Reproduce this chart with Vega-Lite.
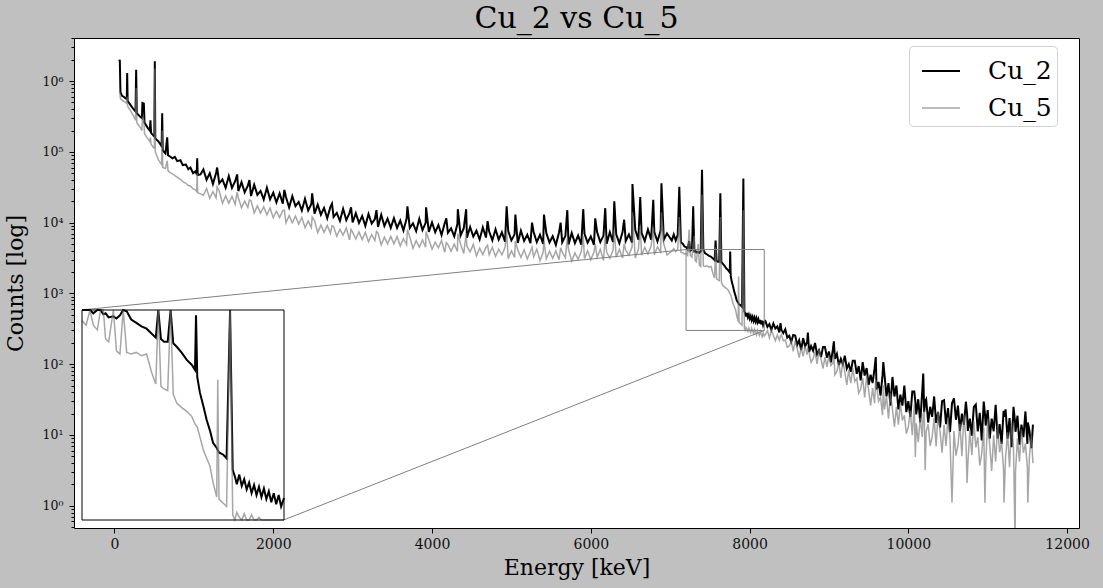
{
  "$schema": "https://vega.github.io/schema/vega-lite/v6.json",
  "width": 1005,
  "height": 490,
  "autosize": "none",
  "padding": {"left": 74, "top": 38, "right": 24, "bottom": 60},
  "background": "#c0c0c0",
  "title": {
    "text": "Cu_2 vs Cu_5",
    "font": "DejaVu Serif",
    "fontSize": 30,
    "fontWeight": "normal",
    "color": "#000000",
    "anchor": "middle",
    "frame": "group",
    "offset": 4,
    "dy": 6
  },
  "config": {
    "view": {"fill": "white", "stroke": "#000000", "strokeWidth": 1},
    "axis": {
      "grid": false,
      "domain": false,
      "tickColor": "#000000",
      "tickWidth": 1,
      "labelFont": "DejaVu Serif",
      "labelColor": "#111111",
      "titleFont": "DejaVu Serif",
      "titleFontWeight": "normal",
      "titleColor": "#000000",
      "titleFontSize": 22
    }
  },
  "data": {
    "values": [
      {"E": 60, "Cu_2": 1900000, "Cu_5": 700000},
      {"E": 67, "Cu_2": 2000000, "Cu_5": 680000},
      {"E": 75, "Cu_2": 700000, "Cu_5": 560000},
      {"E": 95, "Cu_2": 620000, "Cu_5": 540000},
      {"E": 115, "Cu_2": 600000, "Cu_5": 520000},
      {"E": 140, "Cu_2": 570000, "Cu_5": 500000},
      {"E": 155, "Cu_2": 560000, "Cu_5": 480000},
      {"E": 160, "Cu_2": 1300000, "Cu_5": 600000},
      {"E": 166, "Cu_2": 520000, "Cu_5": 440000},
      {"E": 190, "Cu_2": 480000, "Cu_5": 400000},
      {"E": 214, "Cu_2": 440000, "Cu_5": 360000},
      {"E": 240, "Cu_2": 400000, "Cu_5": 320000},
      {"E": 265, "Cu_2": 370000, "Cu_5": 280000},
      {"E": 273, "Cu_2": 1450000, "Cu_5": 800000},
      {"E": 281, "Cu_2": 350000, "Cu_5": 260000},
      {"E": 305, "Cu_2": 330000, "Cu_5": 235000},
      {"E": 327, "Cu_2": 310000, "Cu_5": 220000},
      {"E": 345, "Cu_2": 300000, "Cu_5": 200000},
      {"E": 352, "Cu_2": 490000, "Cu_5": 300000},
      {"E": 370, "Cu_2": 480000, "Cu_5": 280000},
      {"E": 378, "Cu_2": 260000, "Cu_5": 180000},
      {"E": 416, "Cu_2": 220000, "Cu_5": 155000},
      {"E": 445, "Cu_2": 200000, "Cu_5": 140000},
      {"E": 453, "Cu_2": 280000, "Cu_5": 160000},
      {"E": 461, "Cu_2": 185000, "Cu_5": 128000},
      {"E": 490, "Cu_2": 170000, "Cu_5": 115000},
      {"E": 502, "Cu_2": 165000, "Cu_5": 112000},
      {"E": 508, "Cu_2": 1900000, "Cu_5": 1500000},
      {"E": 514, "Cu_2": 155000, "Cu_5": 100000},
      {"E": 554, "Cu_2": 140000, "Cu_5": 77000},
      {"E": 594, "Cu_2": 120000, "Cu_5": 66000},
      {"E": 601, "Cu_2": 350000, "Cu_5": 200000},
      {"E": 608, "Cu_2": 105000, "Cu_5": 60000},
      {"E": 642, "Cu_2": 95000, "Cu_5": 58000},
      {"E": 664, "Cu_2": 160000, "Cu_5": 75000},
      {"E": 675, "Cu_2": 90000, "Cu_5": 54000},
      {"E": 700, "Cu_2": 86000, "Cu_5": 51000},
      {"E": 730, "Cu_2": 81000, "Cu_5": 49000},
      {"E": 760, "Cu_2": 85000, "Cu_5": 46000},
      {"E": 790, "Cu_2": 74000, "Cu_5": 44000},
      {"E": 831, "Cu_2": 76000, "Cu_5": 41000},
      {"E": 860, "Cu_2": 65000, "Cu_5": 38000},
      {"E": 900, "Cu_2": 66000, "Cu_5": 36000},
      {"E": 930, "Cu_2": 57000, "Cu_5": 33500},
      {"E": 957, "Cu_2": 60000, "Cu_5": 33000},
      {"E": 990, "Cu_2": 50000, "Cu_5": 30000},
      {"E": 1020, "Cu_2": 53000, "Cu_5": 29000},
      {"E": 1036, "Cu_2": 48000, "Cu_5": 27500},
      {"E": 1042, "Cu_2": 81000, "Cu_5": 50000},
      {"E": 1048, "Cu_2": 47000, "Cu_5": 26500},
      {"E": 1083, "Cu_2": 48000, "Cu_5": 25500},
      {"E": 1120, "Cu_2": 56500, "Cu_5": 24360},
      {"E": 1160, "Cu_2": 40350, "Cu_5": 30360},
      {"E": 1200, "Cu_2": 49770, "Cu_5": 22120},
      {"E": 1240, "Cu_2": 35130, "Cu_5": 27410},
      {"E": 1280, "Cu_2": 50180, "Cu_5": 22390},
      {"E": 1293, "Cu_2": 60000, "Cu_5": 32000},
      {"E": 1320, "Cu_2": 35830, "Cu_5": 27970},
      {"E": 1360, "Cu_2": 40730, "Cu_5": 18820},
      {"E": 1400, "Cu_2": 31010, "Cu_5": 23880},
      {"E": 1440, "Cu_2": 45400, "Cu_5": 18890},
      {"E": 1480, "Cu_2": 31040, "Cu_5": 23520},
      {"E": 1520, "Cu_2": 38440, "Cu_5": 18110},
      {"E": 1545, "Cu_2": 48000, "Cu_5": 27000},
      {"E": 1560, "Cu_2": 27940, "Cu_5": 22450},
      {"E": 1600, "Cu_2": 37240, "Cu_5": 16260},
      {"E": 1640, "Cu_2": 26790, "Cu_5": 20120},
      {"E": 1680, "Cu_2": 33340, "Cu_5": 16390},
      {"E": 1700, "Cu_2": 40000, "Cu_5": 21000},
      {"E": 1720, "Cu_2": 23720, "Cu_5": 20430},
      {"E": 1760, "Cu_2": 34230, "Cu_5": 13690},
      {"E": 1800, "Cu_2": 24680, "Cu_5": 17270},
      {"E": 1840, "Cu_2": 28070, "Cu_5": 13570},
      {"E": 1880, "Cu_2": 21260, "Cu_5": 16770},
      {"E": 1920, "Cu_2": 31080, "Cu_5": 12900},
      {"E": 1960, "Cu_2": 21320, "Cu_5": 16080},
      {"E": 2000, "Cu_2": 26490, "Cu_5": 11710},
      {"E": 2040, "Cu_2": 19330, "Cu_5": 14510},
      {"E": 2080, "Cu_2": 25870, "Cu_5": 11850},
      {"E": 2120, "Cu_2": 18570, "Cu_5": 14800},
      {"E": 2140, "Cu_2": 29000, "Cu_5": 15000},
      {"E": 2160, "Cu_2": 23050, "Cu_5": 9940},
      {"E": 2200, "Cu_2": 16360, "Cu_5": 12570},
      {"E": 2240, "Cu_2": 23690, "Cu_5": 9950},
      {"E": 2280, "Cu_2": 17130, "Cu_5": 12380},
      {"E": 2320, "Cu_2": 19560, "Cu_5": 9530},
      {"E": 2360, "Cu_2": 14880, "Cu_5": 11810},
      {"E": 2400, "Cu_2": 21750, "Cu_5": 8540},
      {"E": 2440, "Cu_2": 14850, "Cu_5": 10530},
      {"E": 2480, "Cu_2": 18350, "Cu_5": 8540},
      {"E": 2490, "Cu_2": 26000, "Cu_5": 12000},
      {"E": 2520, "Cu_2": 13380, "Cu_5": 10660},
      {"E": 2560, "Cu_2": 17980, "Cu_5": 7220},
      {"E": 2600, "Cu_2": 12960, "Cu_5": 9200},
      {"E": 2640, "Cu_2": 16150, "Cu_5": 7300},
      {"E": 2680, "Cu_2": 11520, "Cu_5": 9140},
      {"E": 2720, "Cu_2": 16670, "Cu_5": 7070},
      {"E": 2740, "Cu_2": 18500, "Cu_5": 9000},
      {"E": 2760, "Cu_2": 12040, "Cu_5": 8810},
      {"E": 2800, "Cu_2": 13740, "Cu_5": 6410},
      {"E": 2840, "Cu_2": 10580, "Cu_5": 8040},
      {"E": 2880, "Cu_2": 15680, "Cu_5": 6650},
      {"E": 2920, "Cu_2": 10860, "Cu_5": 8400},
      {"E": 2960, "Cu_2": 13630, "Cu_5": 5720},
      {"E": 2980, "Cu_2": 16500, "Cu_5": 8000},
      {"E": 3000, "Cu_2": 10040, "Cu_5": 7330},
      {"E": 3040, "Cu_2": 13590, "Cu_5": 5870},
      {"E": 3080, "Cu_2": 9870, "Cu_5": 7380},
      {"E": 3120, "Cu_2": 12430, "Cu_5": 5770},
      {"E": 3160, "Cu_2": 9000, "Cu_5": 7280},
      {"E": 3200, "Cu_2": 13220, "Cu_5": 5370},
      {"E": 3240, "Cu_2": 9700, "Cu_5": 6760},
      {"E": 3280, "Cu_2": 11260, "Cu_5": 5600},
      {"E": 3300, "Cu_2": 15000, "Cu_5": 7500},
      {"E": 3320, "Cu_2": 8700, "Cu_5": 7090},
      {"E": 3360, "Cu_2": 12930, "Cu_5": 4850},
      {"E": 3400, "Cu_2": 8980, "Cu_5": 6230},
      {"E": 3440, "Cu_2": 11360, "Cu_5": 5020},
      {"E": 3480, "Cu_2": 8450, "Cu_5": 6370},
      {"E": 3520, "Cu_2": 11530, "Cu_5": 5010},
      {"E": 3560, "Cu_2": 8440, "Cu_5": 6340},
      {"E": 3600, "Cu_2": 10690, "Cu_5": 4700},
      {"E": 3640, "Cu_2": 7770, "Cu_5": 5920},
      {"E": 3680, "Cu_2": 11440, "Cu_5": 4910},
      {"E": 3690, "Cu_2": 17000, "Cu_5": 8000},
      {"E": 3720, "Cu_2": 8410, "Cu_5": 6270},
      {"E": 3760, "Cu_2": 9790, "Cu_5": 4310},
      {"E": 3800, "Cu_2": 7580, "Cu_5": 5560},
      {"E": 3840, "Cu_2": 11300, "Cu_5": 4500},
      {"E": 3880, "Cu_2": 7880, "Cu_5": 5710},
      {"E": 3920, "Cu_2": 9950, "Cu_5": 4490},
      {"E": 3925, "Cu_2": 16500, "Cu_5": 7500},
      {"E": 3960, "Cu_2": 7390, "Cu_5": 5710},
      {"E": 4000, "Cu_2": 10070, "Cu_5": 4230},
      {"E": 4040, "Cu_2": 7340, "Cu_5": 5310},
      {"E": 4080, "Cu_2": 9260, "Cu_5": 4410},
      {"E": 4120, "Cu_2": 6690, "Cu_5": 5590},
      {"E": 4160, "Cu_2": 9820, "Cu_5": 3810},
      {"E": 4180, "Cu_2": 11500, "Cu_5": 5200},
      {"E": 4200, "Cu_2": 7190, "Cu_5": 4920},
      {"E": 4240, "Cu_2": 8310, "Cu_5": 3940},
      {"E": 4280, "Cu_2": 6420, "Cu_5": 4960},
      {"E": 4320, "Cu_2": 9540, "Cu_5": 3900},
      {"E": 4325, "Cu_2": 15500, "Cu_5": 7000},
      {"E": 4360, "Cu_2": 6590, "Cu_5": 4950},
      {"E": 4400, "Cu_2": 8340, "Cu_5": 3670},
      {"E": 4430, "Cu_2": 15500, "Cu_5": 7000},
      {"E": 4440, "Cu_2": 6130, "Cu_5": 4640},
      {"E": 4480, "Cu_2": 8660, "Cu_5": 3860},
      {"E": 4520, "Cu_2": 6360, "Cu_5": 4930},
      {"E": 4560, "Cu_2": 7690, "Cu_5": 3380},
      {"E": 4600, "Cu_2": 5780, "Cu_5": 4360},
      {"E": 4640, "Cu_2": 8580, "Cu_5": 3530},
      {"E": 4680, "Cu_2": 6150, "Cu_5": 4490},
      {"E": 4700, "Cu_2": 10500, "Cu_5": 4800},
      {"E": 4720, "Cu_2": 7470, "Cu_5": 3530},
      {"E": 4760, "Cu_2": 5650, "Cu_5": 4480},
      {"E": 4800, "Cu_2": 8080, "Cu_5": 3330},
      {"E": 4840, "Cu_2": 5770, "Cu_5": 4210},
      {"E": 4880, "Cu_2": 7290, "Cu_5": 3510},
      {"E": 4920, "Cu_2": 5370, "Cu_5": 4490},
      {"E": 4940, "Cu_2": 17000, "Cu_5": 7500},
      {"E": 4960, "Cu_2": 7630, "Cu_5": 3090},
      {"E": 5000, "Cu_2": 5620, "Cu_5": 4000},
      {"E": 5040, "Cu_2": 6830, "Cu_5": 3230},
      {"E": 5050, "Cu_2": 13000, "Cu_5": 5500},
      {"E": 5080, "Cu_2": 5160, "Cu_5": 4120},
      {"E": 5120, "Cu_2": 7680, "Cu_5": 3240},
      {"E": 5160, "Cu_2": 5520, "Cu_5": 4130},
      {"E": 5200, "Cu_2": 6750, "Cu_5": 3070},
      {"E": 5240, "Cu_2": 5130, "Cu_5": 3900},
      {"E": 5260, "Cu_2": 10000, "Cu_5": 4500},
      {"E": 5280, "Cu_2": 7380, "Cu_5": 3290},
      {"E": 5320, "Cu_2": 5290, "Cu_5": 4210},
      {"E": 5360, "Cu_2": 6740, "Cu_5": 2910},
      {"E": 5400, "Cu_2": 4990, "Cu_5": 3810},
      {"E": 5410, "Cu_2": 13000, "Cu_5": 5500},
      {"E": 5440, "Cu_2": 7100, "Cu_5": 3090},
      {"E": 5480, "Cu_2": 5240, "Cu_5": 3960},
      {"E": 5520, "Cu_2": 6410, "Cu_5": 3140},
      {"E": 5560, "Cu_2": 4860, "Cu_5": 4010},
      {"E": 5600, "Cu_2": 7260, "Cu_5": 3000},
      {"E": 5620, "Cu_2": 10000, "Cu_5": 4400},
      {"E": 5640, "Cu_2": 5270, "Cu_5": 3830},
      {"E": 5680, "Cu_2": 6460, "Cu_5": 3210},
      {"E": 5704, "Cu_2": 15000, "Cu_5": 6000},
      {"E": 5720, "Cu_2": 4930, "Cu_5": 4130},
      {"E": 5760, "Cu_2": 7130, "Cu_5": 2860},
      {"E": 5800, "Cu_2": 5140, "Cu_5": 3730},
      {"E": 5840, "Cu_2": 6580, "Cu_5": 3040},
      {"E": 5880, "Cu_2": 4890, "Cu_5": 3910},
      {"E": 5905, "Cu_2": 15500, "Cu_5": 6500},
      {"E": 5920, "Cu_2": 7000, "Cu_5": 3120},
      {"E": 5960, "Cu_2": 5200, "Cu_5": 4000},
      {"E": 6000, "Cu_2": 6370, "Cu_5": 3000},
      {"E": 6040, "Cu_2": 4860, "Cu_5": 3840},
      {"E": 6056, "Cu_2": 11500, "Cu_5": 5000},
      {"E": 6080, "Cu_2": 7290, "Cu_5": 3240},
      {"E": 6120, "Cu_2": 5300, "Cu_5": 4190},
      {"E": 6160, "Cu_2": 6560, "Cu_5": 2920},
      {"E": 6182, "Cu_2": 16000, "Cu_5": 6500},
      {"E": 6200, "Cu_2": 5050, "Cu_5": 3840},
      {"E": 6240, "Cu_2": 7340, "Cu_5": 3150},
      {"E": 6280, "Cu_2": 5320, "Cu_5": 4070},
      {"E": 6296, "Cu_2": 20000, "Cu_5": 8000},
      {"E": 6320, "Cu_2": 6860, "Cu_5": 3250},
      {"E": 6360, "Cu_2": 5130, "Cu_5": 4190},
      {"E": 6400, "Cu_2": 7370, "Cu_5": 3160},
      {"E": 6420, "Cu_2": 11000, "Cu_5": 5000},
      {"E": 6440, "Cu_2": 5520, "Cu_5": 4080},
      {"E": 6480, "Cu_2": 6810, "Cu_5": 3480},
      {"E": 6520, "Cu_2": 5220, "Cu_5": 4520},
      {"E": 6525, "Cu_2": 35000, "Cu_5": 14000},
      {"E": 6560, "Cu_2": 7890, "Cu_5": 3170},
      {"E": 6600, "Cu_2": 5760, "Cu_5": 4190},
      {"E": 6623, "Cu_2": 23000, "Cu_5": 9000},
      {"E": 6640, "Cu_2": 7140, "Cu_5": 3460},
      {"E": 6680, "Cu_2": 5510, "Cu_5": 4480},
      {"E": 6720, "Cu_2": 7990, "Cu_5": 3610},
      {"E": 6760, "Cu_2": 5750, "Cu_5": 4660},
      {"E": 6787, "Cu_2": 21000, "Cu_5": 8500},
      {"E": 6800, "Cu_2": 7340, "Cu_5": 3510},
      {"E": 6840, "Cu_2": 5430, "Cu_5": 4530},
      {"E": 6880, "Cu_2": 7760, "Cu_5": 3840},
      {"E": 6890, "Cu_2": 36000, "Cu_5": 14000},
      {"E": 6920, "Cu_2": 5750, "Cu_5": 4990},
      {"E": 6960, "Cu_2": 7020, "Cu_5": 3490},
      {"E": 7020, "Cu_2": 5600, "Cu_5": 3950},
      {"E": 7045, "Cu_2": 6800, "Cu_5": 4300},
      {"E": 7070, "Cu_2": 5600, "Cu_5": 3900},
      {"E": 7095, "Cu_2": 6700, "Cu_5": 4200},
      {"E": 7115, "Cu_2": 32000, "Cu_5": 12000},
      {"E": 7135, "Cu_2": 5300, "Cu_5": 3800},
      {"E": 7160, "Cu_2": 5000, "Cu_5": 3750},
      {"E": 7180, "Cu_2": 4600, "Cu_5": 3600},
      {"E": 7200, "Cu_2": 4500, "Cu_5": 3650},
      {"E": 7220, "Cu_2": 4200, "Cu_5": 3450},
      {"E": 7239, "Cu_2": 5500, "Cu_5": 8000},
      {"E": 7255, "Cu_2": 4000, "Cu_5": 3450},
      {"E": 7275, "Cu_2": 4200, "Cu_5": 3250},
      {"E": 7290, "Cu_2": 17000, "Cu_5": 5000},
      {"E": 7304, "Cu_2": 3950, "Cu_5": 6500},
      {"E": 7315, "Cu_2": 4000, "Cu_5": 2900},
      {"E": 7330, "Cu_2": 3800, "Cu_5": 2800},
      {"E": 7353, "Cu_2": 3850, "Cu_5": 5000},
      {"E": 7368, "Cu_2": 3750, "Cu_5": 2500},
      {"E": 7385, "Cu_2": 3900, "Cu_5": 2400},
      {"E": 7401, "Cu_2": 56000, "Cu_5": 25000},
      {"E": 7418, "Cu_2": 4100, "Cu_5": 2450},
      {"E": 7440, "Cu_2": 3700, "Cu_5": 2400},
      {"E": 7465, "Cu_2": 3550, "Cu_5": 2450},
      {"E": 7490, "Cu_2": 3400, "Cu_5": 2350},
      {"E": 7515, "Cu_2": 3300, "Cu_5": 2400},
      {"E": 7540, "Cu_2": 3100, "Cu_5": 1900},
      {"E": 7560, "Cu_2": 2950, "Cu_5": 1650},
      {"E": 7572, "Cu_2": 5600, "Cu_5": 4500},
      {"E": 7585, "Cu_2": 2900, "Cu_5": 1600},
      {"E": 7600, "Cu_2": 2800, "Cu_5": 1550},
      {"E": 7618, "Cu_2": 2800, "Cu_5": 1520},
      {"E": 7632, "Cu_2": 26000, "Cu_5": 12000},
      {"E": 7645, "Cu_2": 2750, "Cu_5": 1450},
      {"E": 7662, "Cu_2": 2630, "Cu_5": 1300},
      {"E": 7685, "Cu_2": 2450, "Cu_5": 1230},
      {"E": 7711, "Cu_2": 2230, "Cu_5": 1170},
      {"E": 7735, "Cu_2": 2100, "Cu_5": 1100},
      {"E": 7751, "Cu_2": 1970, "Cu_5": 1000},
      {"E": 7756, "Cu_2": 3900, "Cu_5": 980},
      {"E": 7762, "Cu_2": 1800, "Cu_5": 960},
      {"E": 7775, "Cu_2": 1480, "Cu_5": 850},
      {"E": 7792, "Cu_2": 1250, "Cu_5": 720},
      {"E": 7808, "Cu_2": 1050, "Cu_5": 650},
      {"E": 7824, "Cu_2": 920, "Cu_5": 590},
      {"E": 7839, "Cu_2": 790, "Cu_5": 480},
      {"E": 7857, "Cu_2": 740, "Cu_5": 400},
      {"E": 7862, "Cu_2": 720, "Cu_5": 1740},
      {"E": 7868, "Cu_2": 700, "Cu_5": 390},
      {"E": 7889, "Cu_2": 680, "Cu_5": 370},
      {"E": 7905, "Cu_2": 650, "Cu_5": 355},
      {"E": 7922, "Cu_2": 42000, "Cu_5": 15000},
      {"E": 7935, "Cu_2": 560, "Cu_5": 320},
      {"E": 7945, "Cu_2": 520, "Cu_5": 300},
      {"E": 7955, "Cu_2": 470, "Cu_5": 330},
      {"E": 7967, "Cu_2": 530, "Cu_5": 310},
      {"E": 7979, "Cu_2": 460, "Cu_5": 290},
      {"E": 7991, "Cu_2": 500, "Cu_5": 325},
      {"E": 8003, "Cu_2": 440, "Cu_5": 300},
      {"E": 8015, "Cu_2": 480, "Cu_5": 280},
      {"E": 8027, "Cu_2": 420, "Cu_5": 320},
      {"E": 8039, "Cu_2": 465, "Cu_5": 295},
      {"E": 8051, "Cu_2": 410, "Cu_5": 270},
      {"E": 8063, "Cu_2": 455, "Cu_5": 310},
      {"E": 8075, "Cu_2": 400, "Cu_5": 285},
      {"E": 8087, "Cu_2": 445, "Cu_5": 260},
      {"E": 8099, "Cu_2": 390, "Cu_5": 300},
      {"E": 8111, "Cu_2": 430, "Cu_5": 275},
      {"E": 8123, "Cu_2": 375, "Cu_5": 255},
      {"E": 8135, "Cu_2": 420, "Cu_5": 290},
      {"E": 8147, "Cu_2": 365, "Cu_5": 265},
      {"E": 8159, "Cu_2": 410, "Cu_5": 245},
      {"E": 8171, "Cu_2": 355, "Cu_5": 280},
      {"E": 8185, "Cu_2": 395, "Cu_5": 250},
      {"E": 8200, "Cu_2": 407, "Cu_5": 263},
      {"E": 8225, "Cu_2": 338, "Cu_5": 298},
      {"E": 8250, "Cu_2": 369, "Cu_5": 236},
      {"E": 8275, "Cu_2": 306, "Cu_5": 302},
      {"E": 8300, "Cu_2": 376, "Cu_5": 254},
      {"E": 8325, "Cu_2": 319, "Cu_5": 214},
      {"E": 8350, "Cu_2": 341, "Cu_5": 258},
      {"E": 8375, "Cu_2": 282, "Cu_5": 217},
      {"E": 8390, "Cu_2": 380, "Cu_5": 250},
      {"E": 8400, "Cu_2": 309, "Cu_5": 261},
      {"E": 8425, "Cu_2": 274, "Cu_5": 215},
      {"E": 8450, "Cu_2": 311, "Cu_5": 220},
      {"E": 8475, "Cu_2": 238, "Cu_5": 173},
      {"E": 8500, "Cu_2": 252, "Cu_5": 181},
      {"E": 8525, "Cu_2": 207, "Cu_5": 212},
      {"E": 8550, "Cu_2": 259, "Cu_5": 152},
      {"E": 8575, "Cu_2": 254, "Cu_5": 216},
      {"E": 8600, "Cu_2": 187, "Cu_5": 166},
      {"E": 8625, "Cu_2": 217, "Cu_5": 124},
      {"E": 8650, "Cu_2": 158, "Cu_5": 171},
      {"E": 8675, "Cu_2": 234, "Cu_5": 129},
      {"E": 8700, "Cu_2": 178, "Cu_5": 180},
      {"E": 8725, "Cu_2": 206, "Cu_5": 136},
      {"E": 8735, "Cu_2": 280, "Cu_5": 170},
      {"E": 8750, "Cu_2": 149, "Cu_5": 147},
      {"E": 8775, "Cu_2": 180, "Cu_5": 107},
      {"E": 8800, "Cu_2": 155, "Cu_5": 119},
      {"E": 8825, "Cu_2": 200, "Cu_5": 151},
      {"E": 8850, "Cu_2": 138, "Cu_5": 101},
      {"E": 8875, "Cu_2": 157, "Cu_5": 161},
      {"E": 8900, "Cu_2": 126, "Cu_5": 119},
      {"E": 8925, "Cu_2": 175, "Cu_5": 87},
      {"E": 8950, "Cu_2": 175, "Cu_5": 126},
      {"E": 8975, "Cu_2": 124, "Cu_5": 92},
      {"E": 9000, "Cu_2": 151, "Cu_5": 133},
      {"E": 9025, "Cu_2": 106, "Cu_5": 96},
      {"E": 9050, "Cu_2": 163, "Cu_5": 104},
      {"E": 9062, "Cu_2": 210, "Cu_5": 140},
      {"E": 9075, "Cu_2": 119, "Cu_5": 71},
      {"E": 9100, "Cu_2": 140, "Cu_5": 79},
      {"E": 9125, "Cu_2": 97, "Cu_5": 106},
      {"E": 9150, "Cu_2": 119, "Cu_5": 64},
      {"E": 9175, "Cu_2": 100, "Cu_5": 114},
      {"E": 9200, "Cu_2": 132, "Cu_5": 77},
      {"E": 9225, "Cu_2": 87, "Cu_5": 51},
      {"E": 9250, "Cu_2": 100, "Cu_5": 83},
      {"E": 9275, "Cu_2": 78, "Cu_5": 54},
      {"E": 9300, "Cu_2": 112, "Cu_5": 88},
      {"E": 9325, "Cu_2": 112, "Cu_5": 57},
      {"E": 9350, "Cu_2": 73, "Cu_5": 63},
      {"E": 9375, "Cu_2": 94, "Cu_5": 39},
      {"E": 9400, "Cu_2": 59, "Cu_5": 45},
      {"E": 9425, "Cu_2": 107, "Cu_5": 64},
      {"E": 9450, "Cu_2": 69, "Cu_5": 34},
      {"E": 9475, "Cu_2": 88, "Cu_5": 68},
      {"E": 9500, "Cu_2": 51, "Cu_5": 43},
      {"E": 9525, "Cu_2": 71, "Cu_5": 26},
      {"E": 9550, "Cu_2": 54, "Cu_5": 46},
      {"E": 9575, "Cu_2": 88, "Cu_5": 28},
      {"E": 9590, "Cu_2": 126, "Cu_5": 60},
      {"E": 9600, "Cu_2": 44, "Cu_5": 49},
      {"E": 9625, "Cu_2": 56, "Cu_5": 30},
      {"E": 9650, "Cu_2": 36, "Cu_5": 34},
      {"E": 9675, "Cu_2": 70, "Cu_5": 19},
      {"E": 9685, "Cu_2": 107, "Cu_5": 50},
      {"E": 9700, "Cu_2": 70, "Cu_5": 23},
      {"E": 9725, "Cu_2": 35, "Cu_5": 35},
      {"E": 9750, "Cu_2": 54, "Cu_5": 17},
      {"E": 9775, "Cu_2": 26, "Cu_5": 39},
      {"E": 9800, "Cu_2": 66, "Cu_5": 23},
      {"E": 9825, "Cu_2": 35, "Cu_5": 13},
      {"E": 9850, "Cu_2": 50, "Cu_5": 25},
      {"E": 9875, "Cu_2": 23, "Cu_5": 14},
      {"E": 9900, "Cu_2": 37, "Cu_5": 28},
      {"E": 9925, "Cu_2": 26, "Cu_5": 16},
      {"E": 9950, "Cu_2": 50, "Cu_5": 19},
      {"E": 9975, "Cu_2": 21, "Cu_5": 10.4},
      {"E": 10000, "Cu_2": 30, "Cu_5": 13},
      {"E": 10025, "Cu_2": 18, "Cu_5": 22},
      {"E": 10050, "Cu_2": 41, "Cu_5": 9.9},
      {"E": 10075, "Cu_2": 41, "Cu_5": 27},
      {"E": 10088, "Cu_2": 30, "Cu_5": 4.9},
      {"E": 10100, "Cu_2": 19.5, "Cu_5": 14.6},
      {"E": 10125, "Cu_2": 32, "Cu_5": 7.9},
      {"E": 10150, "Cu_2": 15, "Cu_5": 17.5},
      {"E": 10175, "Cu_2": 41, "Cu_5": 9.4},
      {"E": 10188, "Cu_2": 74, "Cu_5": 20},
      {"E": 10200, "Cu_2": 21, "Cu_5": 21},
      {"E": 10212, "Cu_2": 30, "Cu_5": 3.2},
      {"E": 10225, "Cu_2": 32, "Cu_5": 11.3},
      {"E": 10250, "Cu_2": 15, "Cu_5": 14.2},
      {"E": 10275, "Cu_2": 25, "Cu_5": 7},
      {"E": 10300, "Cu_2": 18, "Cu_5": 9.3},
      {"E": 10325, "Cu_2": 35, "Cu_5": 17.3},
      {"E": 10350, "Cu_2": 14.8, "Cu_5": 6.9},
      {"E": 10375, "Cu_2": 21, "Cu_5": 21.7},
      {"E": 10400, "Cu_2": 12.8, "Cu_5": 11.1},
      {"E": 10425, "Cu_2": 30, "Cu_5": 5.6},
      {"E": 10450, "Cu_2": 31, "Cu_5": 13.9},
      {"E": 10475, "Cu_2": 14.2, "Cu_5": 7},
      {"E": 10500, "Cu_2": 24, "Cu_5": 17.7},
      {"E": 10525, "Cu_2": 11, "Cu_5": 8.7},
      {"E": 10550, "Cu_2": 28, "Cu_5": 1.1},
      {"E": 10575, "Cu_2": 33, "Cu_5": 11.4},
      {"E": 10600, "Cu_2": 16.4, "Cu_5": 5.1},
      {"E": 10625, "Cu_2": 26, "Cu_5": 7.1},
      {"E": 10650, "Cu_2": 11.4, "Cu_5": 14.4},
      {"E": 10675, "Cu_2": 20, "Cu_5": 5},
      {"E": 10700, "Cu_2": 13.9, "Cu_5": 19},
      {"E": 10725, "Cu_2": 29.5, "Cu_5": 8.8},
      {"E": 10740, "Cu_2": 20, "Cu_5": 2.1},
      {"E": 10750, "Cu_2": 11.4, "Cu_5": 4},
      {"E": 10775, "Cu_2": 17, "Cu_5": 11.6},
      {"E": 10800, "Cu_2": 9.8, "Cu_5": 5.2},
      {"E": 10825, "Cu_2": 25, "Cu_5": 15.7},
      {"E": 10850, "Cu_2": 27, "Cu_5": 6.7},
      {"E": 10875, "Cu_2": 11.2, "Cu_5": 9.3},
      {"E": 10900, "Cu_2": 20.6, "Cu_5": 3.7},
      {"E": 10925, "Cu_2": 8.4, "Cu_5": 5.5},
      {"E": 10950, "Cu_2": 29.6, "Cu_5": 12.5},
      {"E": 10965, "Cu_2": 20, "Cu_5": 1.1},
      {"E": 10975, "Cu_2": 13.6, "Cu_5": 3.8},
      {"E": 11000, "Cu_2": 22.5, "Cu_5": 17},
      {"E": 11025, "Cu_2": 8.9, "Cu_5": 7.3},
      {"E": 11050, "Cu_2": 17, "Cu_5": 3.1},
      {"E": 11075, "Cu_2": 11.3, "Cu_5": 9.9},
      {"E": 11100, "Cu_2": 26.7, "Cu_5": 4.2},
      {"E": 11125, "Cu_2": 8.9, "Cu_5": 13.6},
      {"E": 11150, "Cu_2": 14.2, "Cu_5": 5.7},
      {"E": 11175, "Cu_2": 7.5, "Cu_5": 8},
      {"E": 11200, "Cu_2": 22, "Cu_5": 3.2},
      {"E": 11205, "Cu_2": 18, "Cu_5": 1.1},
      {"E": 11225, "Cu_2": 23, "Cu_5": 4.8},
      {"E": 11250, "Cu_2": 8.9, "Cu_5": 10.9},
      {"E": 11275, "Cu_2": 17.3, "Cu_5": 3.5},
      {"E": 11300, "Cu_2": 6.7, "Cu_5": 14.8},
      {"E": 11325, "Cu_2": 25, "Cu_5": 6.6},
      {"E": 11345, "Cu_2": 15, "Cu_5": 0.3},
      {"E": 11350, "Cu_2": 11.1, "Cu_5": 3},
      {"E": 11375, "Cu_2": 18.7, "Cu_5": 9},
      {"E": 11400, "Cu_2": 7.3, "Cu_5": 4.2},
      {"E": 11425, "Cu_2": 14, "Cu_5": 11.9},
      {"E": 11450, "Cu_2": 9.3, "Cu_5": 5.6},
      {"E": 11475, "Cu_2": 21.5, "Cu_5": 7.6},
      {"E": 11500, "Cu_2": 7.5, "Cu_5": 3.4},
      {"E": 11505, "Cu_2": 15, "Cu_5": 1.1},
      {"E": 11525, "Cu_2": 11.7, "Cu_5": 4.9},
      {"E": 11550, "Cu_2": 6.5, "Cu_5": 9.8},
      {"E": 11570, "Cu_2": 14, "Cu_5": 4}
    ]
  },
  "layer": [
    {
      "layer": [
        {
          "transform": [{"fold": ["Cu_2", "Cu_5"], "as": ["series", "counts"]}],
          "mark": {"type": "line", "clip": true},
          "encoding": {
            "x": {
              "field": "E",
              "type": "quantitative",
              "scale": {"domain": [-510, 12150], "nice": false, "zero": false},
              "axis": {
                "title": "Energy [keV]",
                "values": [0, 2000, 4000, 6000, 8000, 10000, 12000],
                "format": "d",
                "tickSize": 5,
                "labelFontSize": 14,
                "labelBaseline": "alphabetic",
                "labelPadding": 15,
                "titlePadding": 6
              }
            },
            "y": {
              "field": "counts",
              "type": "quantitative",
              "scale": {"type": "log", "domain": [0.485, 4060000], "nice": false},
              "axis": {
                "title": "Counts [log]",
                "values": [0.5, 0.6, 0.7, 0.8, 0.9, 1, 2, 3, 4, 5, 6, 7, 8, 9, 10, 20, 30, 40, 50, 60, 70, 80, 90, 100, 200, 300, 400, 500, 600, 700, 800, 900, 1000, 2000, 3000, 4000, 5000, 6000, 7000, 8000, 9000, 10000, 20000, 30000, 40000, 50000, 60000, 70000, 80000, 90000, 100000, 200000, 300000, 400000, 500000, 600000, 700000, 800000, 900000, 1000000, 2000000, 3000000, 4000000],
                "labelExpr": "datum.value == 1 ? '10⁰' : datum.value == 10 ? '10¹' : datum.value == 100 ? '10²' : datum.value == 1000 ? '10³' : datum.value == 10000 ? '10⁴' : datum.value == 100000 ? '10⁵' : datum.value == 1000000 ? '10⁶' : ''",
                "tickSize": {"condition": {"test": "indexof([1, 10, 100, 1000, 10000, 100000, 1000000], datum.value) >= 0", "value": 5}, "value": 3},
                "labelFontSize": 12.5,
                "labelPadding": 6,
                "labelOverlap": false,
                "titlePadding": 15
              }
            },
            "color": {
              "field": "series",
              "type": "nominal",
              "scale": {"domain": ["Cu_2", "Cu_5"], "range": ["#000000", "#777777"]},
              "legend": {
                "title": null,
                "orient": "none",
                "legendX": 835,
                "legendY": 8,
                "symbolType": "stroke",
                "symbolSize": 1444,
                "symbolOffset": 7,
                "labelOffset": 27,
                "labelFont": "DejaVu Serif",
                "labelFontSize": 25,
                "labelColor": "#000000",
                "rowPadding": 4,
                "padding": 5,
                "fillColor": "rgba(255,255,255,0.85)",
                "strokeColor": "#d0d0d0",
                "cornerRadius": 4
              }
            },
            "opacity": {
              "field": "series",
              "type": "nominal",
              "scale": {"domain": ["Cu_2", "Cu_5"], "range": [1, 0.65]}
            },
            "strokeWidth": {
              "field": "series",
              "type": "nominal",
              "scale": {"domain": ["Cu_2", "Cu_5"], "range": [2, 1.5]}
            }
          }
        },
        {
          "data": {"values": [{}]},
          "mark": {"type": "rect", "filled": false, "stroke": "#808080", "strokeWidth": 1},
          "encoding": {
            "x": {"datum": 7200, "type": "quantitative", "title": "Energy [keV]"},
            "x2": {"datum": 8185},
            "y": {"datum": 300, "type": "quantitative", "title": "Counts [log]"},
            "y2": {"datum": 4170}
          }
        },
        {
          "data": {
            "values": [
              {"xa": -409, "ya": 585, "xb": 7200, "yb": 4170},
              {"xa": 2135, "ya": 0.632, "xb": 8185, "yb": 300}
            ]
          },
          "mark": {"type": "rule", "color": "#808080", "strokeWidth": 1},
          "encoding": {
            "x": {"field": "xa", "type": "quantitative", "title": "Energy [keV]"},
            "y": {"field": "ya", "type": "quantitative", "title": "Counts [log]"},
            "x2": {"field": "xb"},
            "y2": {"field": "yb"}
          }
        }
      ]
    },
    {
      "layer": [
        {
          "data": {"values": [{}]},
          "mark": {"type": "rect", "fill": "white", "strokeWidth": 0},
          "encoding": {
            "x": {"datum": 7200, "type": "quantitative", "scale": {"domain": [7200, 8185], "range": [8, 210], "nice": false, "zero": false}, "axis": null},
            "x2": {"datum": 8185},
            "y": {"datum": 300, "type": "quantitative", "scale": {"type": "log", "domain": [300, 4170], "range": [482, 272], "nice": false, "clamp": true}, "axis": null},
            "y2": {"datum": 4170}
          }
        },
        {
          "transform": [
            {"filter": {"field": "E", "range": [7200, 8185]}},
            {"fold": ["Cu_2", "Cu_5"], "as": ["series", "counts"]}
          ],
          "mark": {"type": "line"},
          "encoding": {
            "x": {"field": "E", "type": "quantitative", "axis": null},
            "y": {"field": "counts", "type": "quantitative", "axis": null},
            "color": {"field": "series", "type": "nominal"},
            "opacity": {"field": "series", "type": "nominal"},
            "strokeWidth": {"field": "series", "type": "nominal"}
          }
        },
        {
          "data": {"values": [{}]},
          "mark": {"type": "rect", "filled": false, "stroke": "#000000", "strokeWidth": 1},
          "encoding": {
            "x": {"datum": 7200, "type": "quantitative", "axis": null},
            "x2": {"datum": 8185},
            "y": {"datum": 300, "type": "quantitative", "axis": null},
            "y2": {"datum": 4170}
          }
        }
      ]
    }
  ],
  "resolve": {"scale": {"x": "independent", "y": "independent"}}
}
